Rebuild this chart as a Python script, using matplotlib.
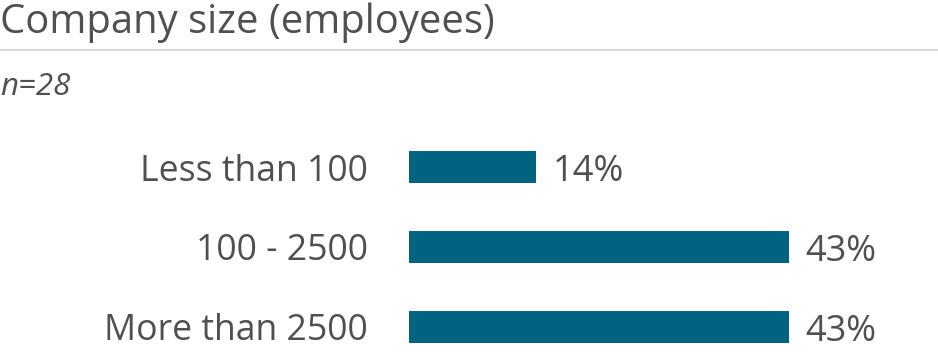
import numpy as np
import matplotlib.pyplot as plt
from matplotlib.transforms import offset_copy

# data
categories = ['Less than 100', '100 - 2500', 'More than 2500']
counts = [4, 12, 12]
n_total = 28
shares = [100.0 * c / n_total for c in counts]
labels = ['%d%%' % round(s) for s in shares]

TEXT = '#505050'
BAR = '#00637f'
plt.rcParams['font.family'] = ['Open Sans', 'DejaVu Sans']

fig = plt.figure(figsize=(9.38, 3.52), dpi=100)
W, H = 938.0, 352.0

# title, rule and sample size
fig.text(0.0, 1 - 33 / H, 'Company size (employees)', fontsize=28.8, color=TEXT, va='baseline', ha='left')
fig.add_artist(plt.Line2D([0, 1], [1 - 50 / H, 1 - 50 / H], color='#d9d9d9', lw=1.5))
fig.text(0.0, 1 - 95 / H, 'n=%d' % n_total, fontsize=22.5, color=TEXT, style='italic', va='baseline', ha='left')

# bars: 80 px per row, first row centred at 167 px from the top
ax = fig.add_axes([409 / W, 0, 529 / W, 1])
y = np.arange(len(categories))
ax.barh(y, shares, height=0.4, color=BAR)
ax.set_xlim(0, 529 / 8.86)
ax.set_ylim(2 + 25 / 80, -167 / 80)

ax.set_yticks(y)
ax.set_yticklabels(categories, fontsize=25.7, color=TEXT)
ax.tick_params(axis='y', length=0, pad=29.5)
ax.set_xticks([])
for s in ax.spines.values():
    s.set_visible(False)

for yi, s, lab in zip(y, shares, labels):
    ax.text(s, yi + 14 / 80, lab, fontsize=26, color=TEXT, va='baseline', ha='left',
            transform=offset_copy(ax.transData, fig=fig, x=17, y=0, units='dots'))

fig.savefig('out.png', dpi=100)
